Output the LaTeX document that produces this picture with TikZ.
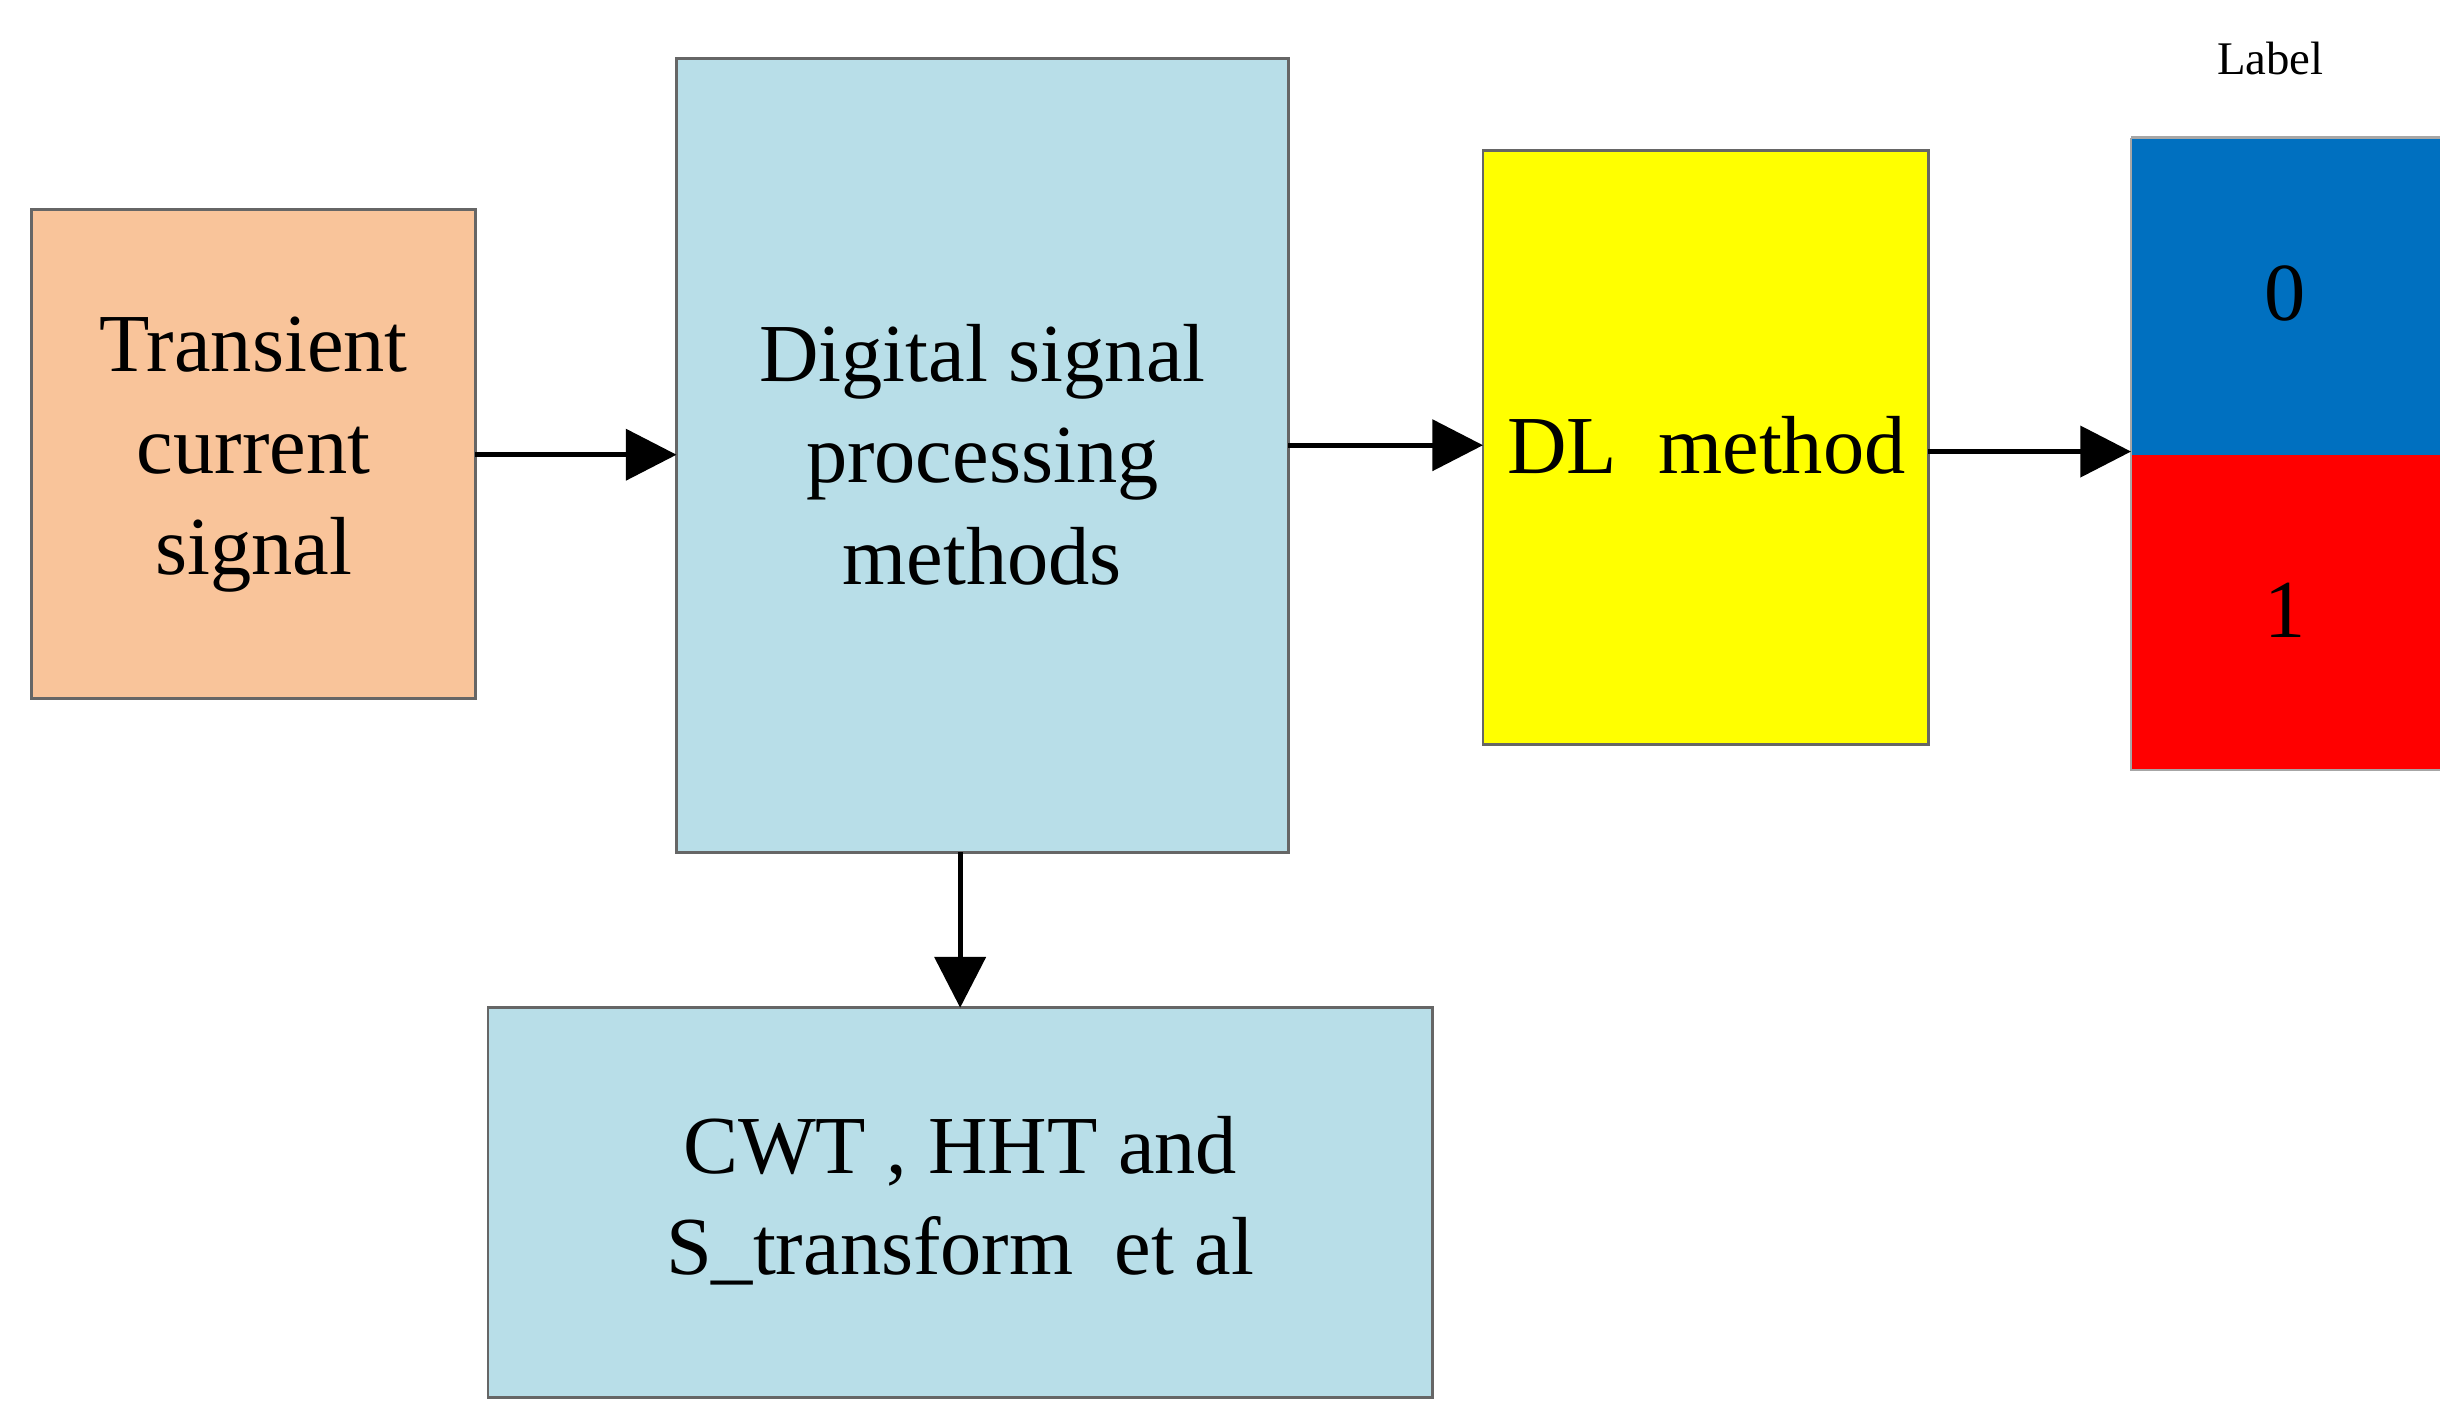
\documentclass[tikz,border=0pt]{standalone}
\usepackage{fontspec}
\setmainfont{Liberation Serif}
\usetikzlibrary{arrows.meta}
\definecolor{org}{HTML}{F9C49A}
\definecolor{lb}{HTML}{B8DEE8}
\definecolor{yl}{HTML}{FFFF00}
\definecolor{bl}{HTML}{0070C0}
\definecolor{rd}{HTML}{FF0000}
\begin{document}
\begin{tikzpicture}[x=0.5mm,y=-0.5mm,
  box/.style={draw=gray!80!black,line width=0.9mm,inner sep=0pt},
  txt/.style={font=\fontsize{74}{91}\selectfont,align=center},
  arr/.style={line width=1.6mm,-{Triangle[length=16mm,width=16mm]}}]
\useasboundingbox (0,0) rectangle (1552,894);
\draw[box,fill=org] (20,132) rectangle (300,441);
\draw[box,fill=lb] (427,37) rectangle (813,538);
\draw[box,fill=yl] (936,95) rectangle (1217,470);
\draw[draw=none,fill=bl] (1345,87) rectangle (1540,287);
\draw[draw=none,fill=rd] (1345,287) rectangle (1540,486);
\draw[box,draw=gray!70] (1345,87) -- (1540,87) (1345,87) -- (1345,486) -- (1540,486);
\draw[box,fill=lb] (308,636) rectangle (904,882);
\node[txt] (ts) at (160,287) {Transient\\current\\signal};
\node[txt] (dsp) at (620,287) {Digital signal\\processing\\methods};
\node[txt] (dl) at (1077,281) {DL\ \ method};
\node[txt] (cwt) at (606,758) {CWT , HHT and\\S\_transform\ \ et al};
\node[txt] (z) at (1442,185) {0};
\node[txt] (o) at (1442,385) {1};
\node[font=\fontsize{42}{50}\selectfont] (lab) at (1433,37) {Label};
\coordinate (a1) at (300,287); \coordinate (a1e) at (427,287);
\coordinate (a2) at (813,281); \coordinate (a2e) at (936,281);
\coordinate (a3) at (1217,285); \coordinate (a3e) at (1345,285);
\coordinate (a4) at (606,538); \coordinate (a4e) at (606,636);
\draw[arr] (a1) -- (a1e);
\draw[arr] (a2) -- (a2e);
\draw[arr] (a3) -- (a3e);
\draw[arr] (a4) -- (a4e);
\end{tikzpicture}
\end{document}
